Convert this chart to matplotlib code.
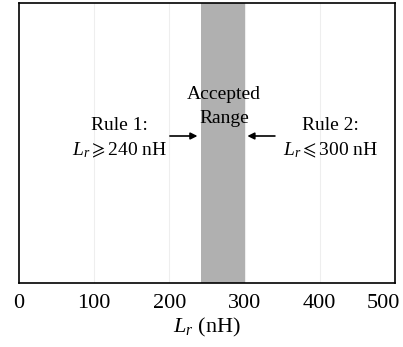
import matplotlib
matplotlib.use("Agg")
import matplotlib.pyplot as plt
import matplotlib.transforms as mtransforms

plt.rcParams['font.family'] = ['Liberation Serif', 'DejaVu Serif', 'DejaVu Sans']
plt.rcParams['mathtext.fontset'] = 'custom'
plt.rcParams['mathtext.rm'] = 'Liberation Serif'
plt.rcParams['mathtext.it'] = 'Liberation Serif:italic'
plt.rcParams['mathtext.fallback'] = 'stix'

x_ticks = [0, 100, 200, 300, 400, 500]
accepted_range = [240, 300]
rule1_min = 240
rule2_max = 300

fig = plt.figure(figsize=(4.03, 3.47), dpi=100)
ax = fig.add_axes([19/403, 1-283/347, (395-19)/403, (283-3)/347])
ax.set_xlim(0, 500)
ax.set_ylim(0, 1)
ax.set_yticks([])
ax.set_xticks(x_ticks)
ax.tick_params(axis='x', length=0, labelsize=16, pad=8)
for t in x_ticks[1:-1]:
    ax.axvline(t, color='#eeeeee', lw=0.8, zorder=0)
ax.axvspan(accepted_range[0] + 2, accepted_range[1], color='#b0b0b0', lw=0, zorder=1)
for s in ax.spines.values():
    s.set_linewidth(1.2)
ax.set_xlabel('$L_r$ (nH)', fontsize=16, labelpad=2)

# shift last tick label left so it fits, as in the reference
lbls = ax.get_xticklabels()
off = mtransforms.ScaledTranslation(-12/100, 0, fig.dpi_scale_trans)
lbls[-1].set_transform(lbls[-1].get_transform() + off)

fs = 14
ax.text(273, 0.672, 'Accepted', ha='center', va='center', fontsize=fs)
ax.text(273, 0.586, 'Range', ha='center', va='center', fontsize=fs)
ax.text(134, 0.562, 'Rule 1:', ha='center', va='center', fontsize=fs)
ax.text(134, 0.473, r'$L_r\geqslant$%d nH' % rule1_min, ha='center', va='center', fontsize=fs)
ax.text(414, 0.562, 'Rule 2:', ha='center', va='center', fontsize=fs)
ax.text(414, 0.473, r'$L_r\leqslant$%d nH' % rule2_max, ha='center', va='center', fontsize=fs)

ap = dict(arrowstyle='-|>', color='black', lw=1.2, mutation_scale=10)
ax.annotate('', xy=(rule1_min + 1, 0.525), xytext=(197, 0.525), arrowprops=ap)
ax.annotate('', xy=(rule2_max, 0.525), xytext=(344, 0.525), arrowprops=ap)

fig.savefig('out.png', dpi=100)
